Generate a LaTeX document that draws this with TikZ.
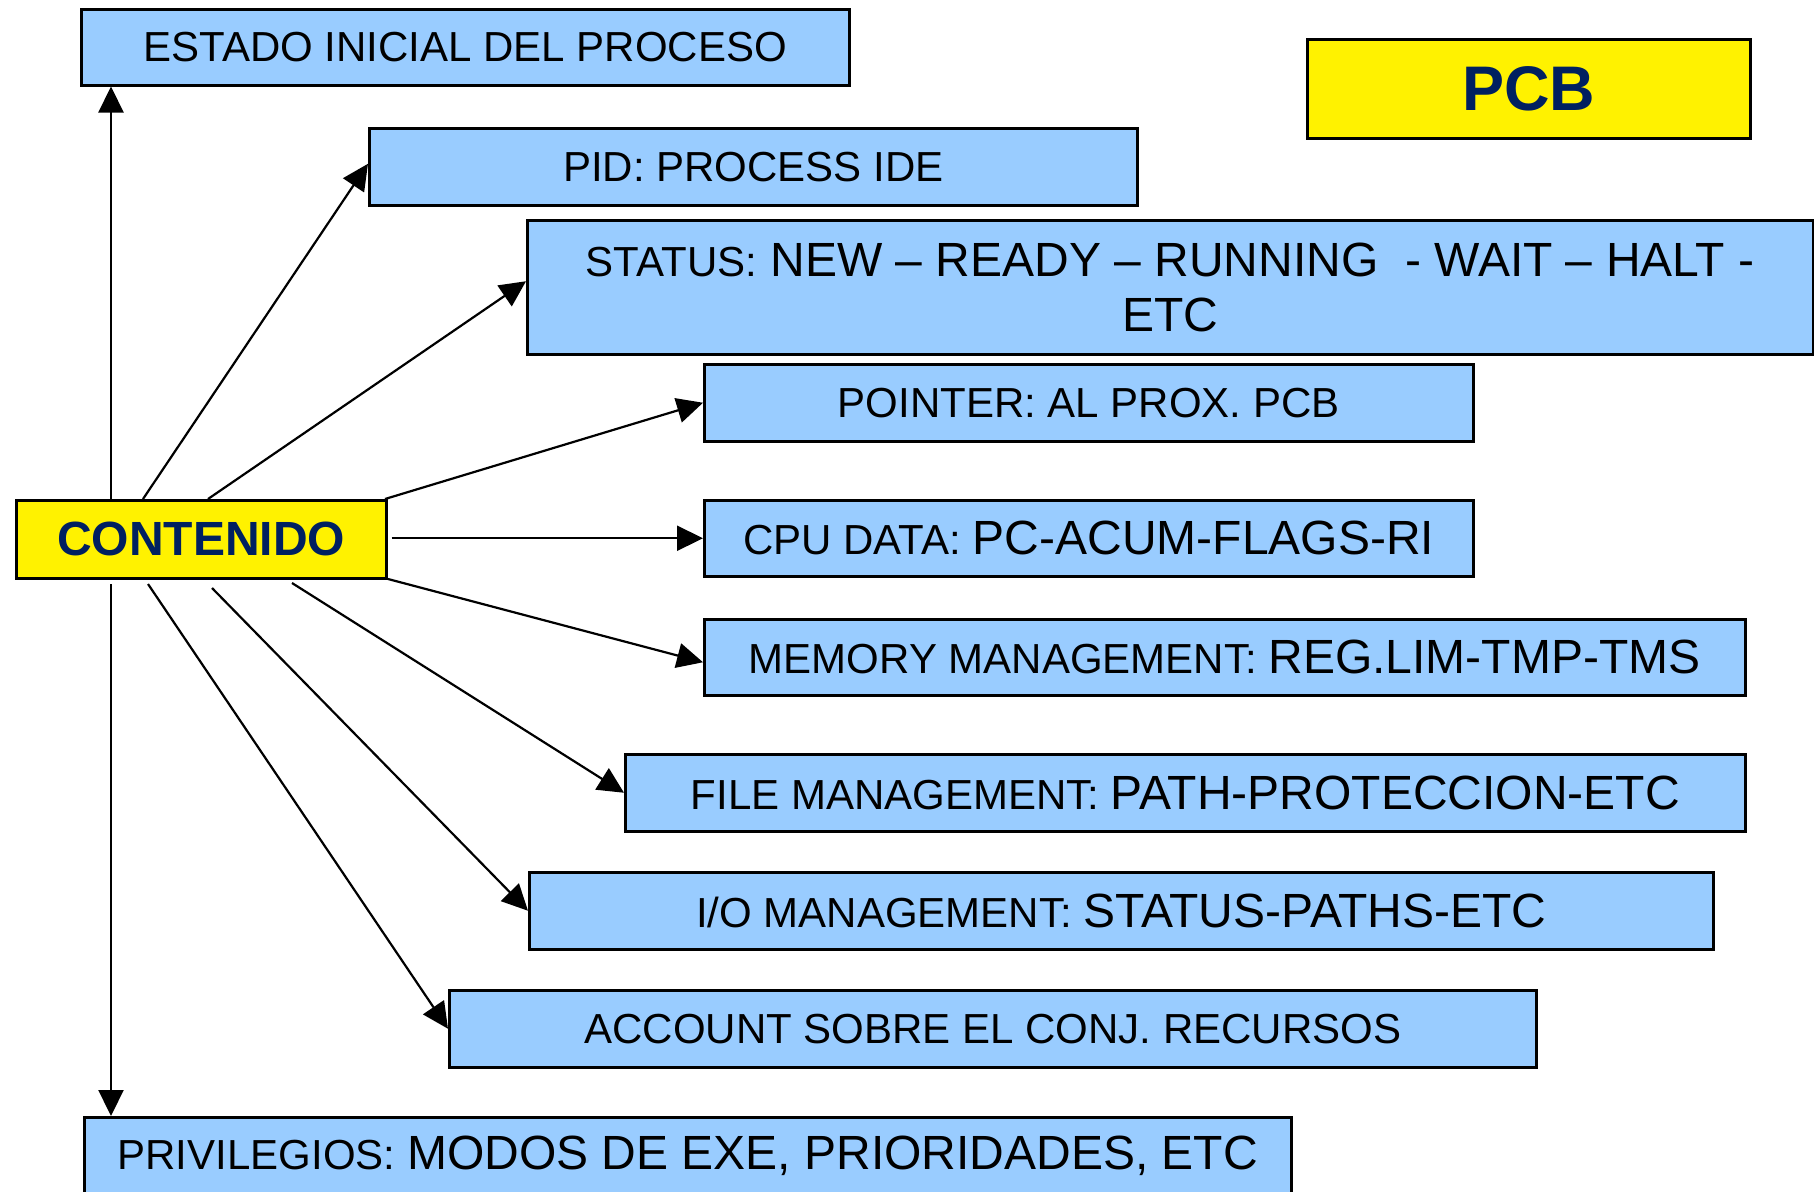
\documentclass[tikz,border=0pt]{standalone}
\usepackage{fontspec}
\setmainfont{Liberation Sans}
\usetikzlibrary{arrows.meta}
\definecolor{boxblue}{RGB}{153,204,255}
\definecolor{navytext}{RGB}{0,32,96}
\newcommand{\smtxt}{\fontsize{42}{48}\selectfont}
\newcommand{\bgtxt}{\fontsize{48}{55}\selectfont}
\begin{document}
\begin{tikzpicture}[x=1pt,y=-1pt,
  bluebox/.style={draw=black, line width=2.5pt, fill=boxblue, inner sep=0pt, anchor=north west, font=\smtxt, align=center},
  yellowbox/.style={draw=black, line width=2.5pt, fill=yellow, inner sep=0pt, anchor=north west, text=navytext},
  conn/.style={line width=2.2pt, -{Triangle[length=26pt,width=25pt]}}]
\useasboundingbox (0,0) rectangle (1814,1191);

\node[bluebox, minimum width=768pt, minimum height=76pt] (estado) at (80,8) {ESTADO INICIAL DEL PROCESO};
\node[yellowbox, minimum width=443pt, minimum height=99pt, font=\fontsize{63}{70}\selectfont\bfseries] (pcb) at (1306,38) {PCB};
\node[bluebox, minimum width=768pt, minimum height=77pt] (pid) at (368,127) {PID: PROCESS IDE};
\node[bluebox, minimum width=1286pt, minimum height=134pt, font=\bgtxt] (status) at (526,219) {{\smtxt STATUS:} NEW – READY – RUNNING\ \ - WAIT – HALT -\\ETC};
\node[bluebox, minimum width=769pt, minimum height=77pt] (pointer) at (703,363) {POINTER: AL PROX. PCB};
\node[yellowbox, minimum width=370pt, minimum height=78pt, font=\fontsize{48}{55}\selectfont\bfseries] (cont) at (15,499) {CONTENIDO};
\node[bluebox, minimum width=769pt, minimum height=76pt] (cpu) at (703,499) {CPU DATA: {\bgtxt PC-ACUM-FLAGS-RI}};
\node[bluebox, minimum width=1041pt, minimum height=76pt] (mem) at (703,618) {MEMORY MANAGEMENT: {\bgtxt REG.LIM-TMP-TMS}};
\node[bluebox, minimum width=1120pt, minimum height=77pt] (file) at (624,753) {FILE MANAGEMENT: {\bgtxt PATH-PROTECCION-ETC}};
\node[bluebox, minimum width=1184pt, minimum height=77pt] (io) at (528,871) {I/O MANAGEMENT: {\bgtxt STATUS-PATHS-ETC}};
\node[bluebox, minimum width=1087pt, minimum height=77pt] (acct) at (448,989) {ACCOUNT SOBRE EL CONJ. RECURSOS};
\node[bluebox, minimum width=1207pt, minimum height=77pt] (priv) at (83,1116) {PRIVILEGIOS: {\bgtxt MODOS DE EXE, PRIORIDADES, ETC}};

\coordinate (s1) at (111,499);
\coordinate (s2) at (143,499);
\coordinate (s3) at (208,499);
\coordinate (s4) at (385,499);
\coordinate (s6) at (388,579);
\coordinate (s7) at (292,583);
\coordinate (s8) at (212,588);
\coordinate (s9) at (148,584);
\coordinate (s10) at (111,584);

\draw[conn] (s1) -- ([xshift=31pt]estado.south west);
\draw[conn] (s2) -- ([yshift=3pt]pid.west);
\draw[conn] (s3) -- ([yshift=6pt]status.west);
\draw[conn] (s4) -- (pointer.west);
\draw[conn] ([xshift=4pt]cont.east |- cpu.west) -- (cpu.west);
\draw[conn] (s6) -- ([yshift=-5pt]mem.west);
\draw[conn] (s7) -- (file.west);
\draw[conn] (s8) -- (io.west);
\draw[conn] (s9) -- (acct.west);
\draw[conn] (s10) -- ([xshift=28pt]priv.north west);
\end{tikzpicture}
\end{document}
